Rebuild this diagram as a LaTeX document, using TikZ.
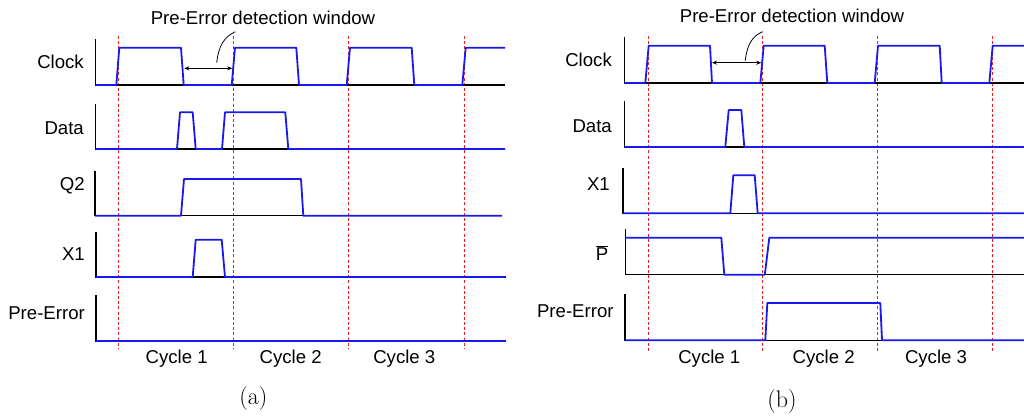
\documentclass[tikz,border=0pt]{standalone}
\usepackage{fontspec}
\newfontfamily\arialf{Liberation Sans}
\usetikzlibrary{arrows.meta}
\definecolor{sigblue}{RGB}{25,25,235}
\definecolor{gridred}{RGB}{240,30,30}
\tikzset{
  axis/.style={black, line width=1.3pt},
  sig/.style={sigblue, line width=1.8pt, line join=round},
  grid/.style={gridred, line width=1.2pt, dash pattern=on 3pt off 2.2pt},
  lbl/.style={font=\arialf\fontsize{18.6}{21}\selectfont, inner sep=0pt},
  subcap/.style={font=\fontsize{24}{27}\selectfont, inner sep=0pt},
  win/.style={black, line width=0.8pt, {Stealth[length=5pt,width=4pt]}-{Stealth[length=5pt,width=4pt]}},
  lead/.style={black, line width=0.8pt}
}
\begin{document}
\begin{tikzpicture}[x=1pt,y=-1pt]
\useasboundingbox (0,0) rectangle (1024,416);
% ================= panel (a) =================
\foreach \x in {118.5,233.5,348.5,464.5} \draw[grid] (\x,36) -- (\x,349);
% Clock
\draw[axis] (95.7,39) -- (95.7,85) -- (505,85);
\draw[sig] (95.7,85) -- (116.3,85) -- (119.3,47.7) -- (181,47.7) -- (183.7,85) -- (231.7,85) -- (235,47.7) -- (296.3,47.7) -- (299,85) -- (346.7,85) -- (350,47.7) -- (411.7,47.7) -- (414.3,85) -- (462.3,85) -- (465.7,47.7) -- (505,47.7);
% Data
\draw[axis] (95.7,104) -- (95.7,149) -- (505,149);
\draw[sig] (95.7,149) -- (177,149) -- (180,112.3) -- (192.7,112.3) -- (195.7,149) -- (222,149) -- (225,112.3) -- (285.3,112.3) -- (288.3,149) -- (505,149);
% Q2
\draw[axis] (95,170.7) -- (95,215.7) -- (502,215.7);
\draw[sig] (95,215.7) -- (181,215.7) -- (184,179) -- (301,179) -- (303.3,215.7) -- (502,215.7);
% X1
\draw[axis] (96,231.7) -- (96,277) -- (505.7,277);
\draw[sig] (96,277) -- (192.7,277) -- (195.7,239.7) -- (221.7,239.7) -- (225,277) -- (505.7,277);
% Pre-Error
\draw[axis] (96,295) -- (96,341.3) -- (506,341.3);
\draw[sig] (96,341.3) -- (506,341.3);
% labels
\node[lbl, anchor=east] (aclk) at (84,61.7) {Clock};
\node[lbl, anchor=east] (adata) at (84,127.7) {Data};
\node[lbl, anchor=east] (aq2) at (85,186) {Q2};
\node[lbl, anchor=east] (ax1) at (85,254.3) {X1};
\node[lbl, anchor=east] (ape) at (85,313.3) {Pre-Error};
\node[lbl] (ac1) at (176.7,358.3) {Cycle 1};
\node[lbl] (ac2) at (290.7,358.3) {Cycle 2};
\node[lbl] (ac3) at (404.3,358.3) {Cycle 3};
\node[subcap] (acap) at (253.3,398.3) {(a)};
% window
\node[lbl] (atitle) at (263,18.3) {Pre-Error detection window};
\coordinate (awl) at (184.3,68.3);
\coordinate (awr) at (232.3,68.3);
\draw[win] (awl) -- (awr);
\coordinate (alb) at (216.7,62.7);
\coordinate (alt) at (235.3,31.7);
\draw[lead] (alb) .. controls (218.5,46) and (224,37) .. (alt);
% ================= panel (b) =================
\foreach \x in {648.5,762.5,877.5,992.5} \draw[grid] (\x,36) -- (\x,352);
% Clock
\draw[axis] (624.7,36.7) -- (624.7,83) -- (1024,83);
\draw[sig] (624.7,83) -- (645.3,83) -- (648.7,45.7) -- (710,45.7) -- (712,83) -- (760.3,83) -- (763.7,45.7) -- (824.7,45.7) -- (827.3,83) -- (874.7,83) -- (878,45.7) -- (939.7,45.7) -- (941.7,83) -- (989.3,83) -- (992.7,45.7) -- (1024,45.7);
% Data
\draw[axis] (624.7,101) -- (624.7,147) -- (1024,147);
\draw[sig] (624.7,147) -- (725.3,147) -- (728.7,110) -- (741.3,110) -- (744.3,147) -- (1024,147);
% X1
\draw[axis] (623,168.3) -- (623,213.3) -- (1024,213.3);
\draw[sig] (623,213.3) -- (730.3,213.3) -- (733.3,175.3) -- (754.7,175.3) -- (757.7,213.3) -- (1024,213.3);
% Pbar
\draw[axis] (625.7,229.3) -- (625.7,274.7) -- (1024,274.7);
\draw[sig] (625.7,237.7) -- (721.3,237.7) -- (724.3,274.7) -- (764.8,274.7) -- (769.3,237.7) -- (1024,237.7);
% Pre-Error
\draw[axis] (625,294) -- (625,340.3) -- (1024,340.3);
\draw[sig] (625,340.3) -- (765.3,340.3) -- (767.3,303) -- (880.3,303) -- (882,340.3) -- (1024,340.3);
% labels
\node[lbl, anchor=east] (bclk) at (612,60) {Clock};
\node[lbl, anchor=east] (bdata) at (612,126) {Data};
\node[lbl, anchor=east] (bx1) at (610,184.3) {X1};
\node[lbl] (bp) at (602,253) {$\overline{\mbox{\arialf P}}$};
\node[lbl] (bpe) at (575.3,310.7) {Pre-Error};
\node[lbl] (bc1) at (709.3,358.3) {Cycle 1};
\node[lbl] (bc2) at (823.7,358.3) {Cycle 2};
\node[lbl] (bc3) at (936,358.3) {Cycle 3};
\node[subcap] (bcap) at (782,401.7) {(b)};
% window
\node[lbl] (btitle) at (792,16) {Pre-Error detection window};
\coordinate (bwl) at (712,62.7);
\coordinate (bwr) at (761.3,62.7);
\draw[win] (bwl) -- (bwr);
\coordinate (blb) at (745.3,60.7);
\coordinate (blt) at (762.7,31.7);
\draw[lead] (blb) .. controls (747,45) and (752,36) .. (blt);
\end{tikzpicture}
\end{document}
